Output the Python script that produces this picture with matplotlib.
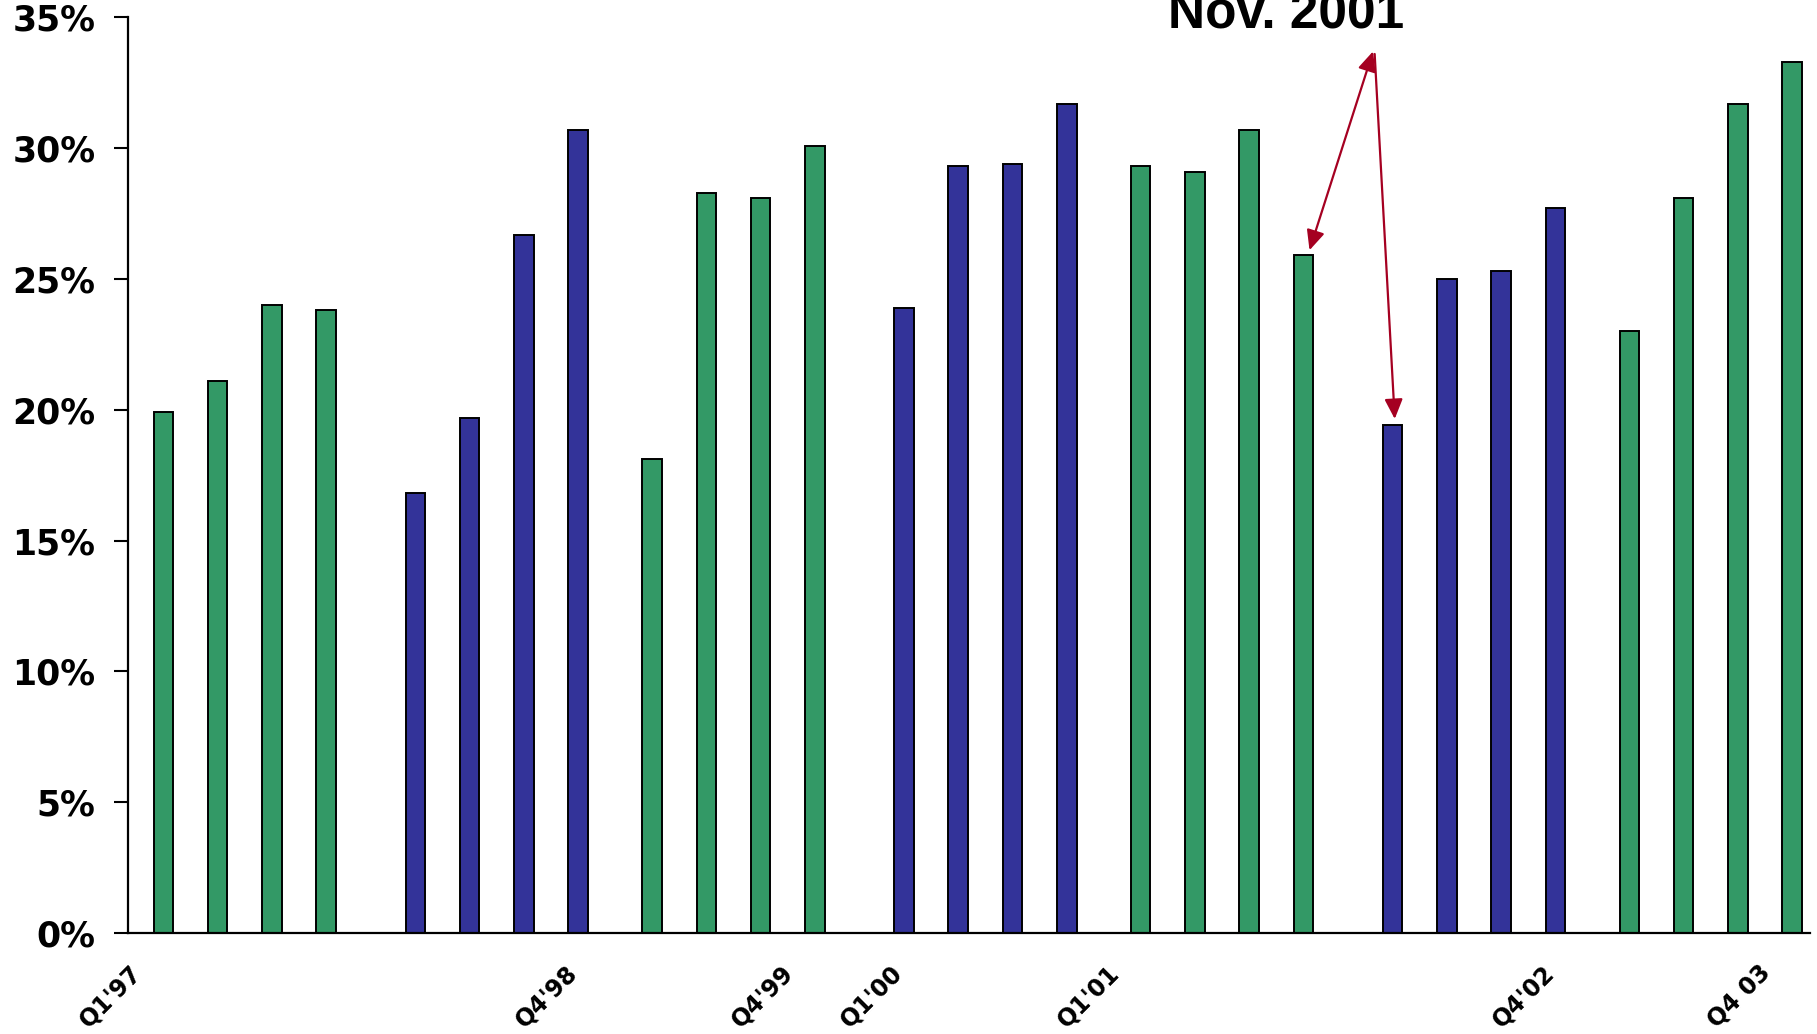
import numpy as np
import matplotlib
matplotlib.use("Agg")
import matplotlib.pyplot as plt

# quarterly share, 1997 - 2003 (percent)
years = [1997, 1998, 1999, 2000, 2001, 2002, 2003]
share = [
    [19.9, 21.1, 24.0, 23.8],
    [16.8, 19.7, 26.7, 30.7],
    [18.1, 28.3, 28.1, 30.1],
    [23.9, 29.3, 29.4, 31.7],
    [29.3, 29.1, 30.7, 25.9],
    [19.4, 25.0, 25.3, 27.7],
    [23.0, 28.1, 31.7, 33.3],
]
tick_labels = {(1997, 0): "Q1'97", (1998, 3): "Q4'98", (1999, 3): "Q4'99",
               (2000, 0): "Q1'00", (2001, 0): "Q1'01", (2002, 3): "Q4'02",
               (2003, 3): "Q4 03"}
yticks = [0, 5, 10, 15, 20, 25, 30, 35]

green = "#339966"
blue = "#333399"
arrow_red = "#a50021"

fig = plt.figure(figsize=(18.17, 10.34), dpi=100)
ax = fig.add_axes([0.0702, 0.0977, 0.926, 0.8855])

# odd years (green) and even years (blue) sit as two offset series
group_step = 4.5
blue_shift = 0.14
label_shift = {green: -0.47, blue: -0.09}

xs, vals, cols, tpos, tlab = [], [], [], [], []
for i, yr in enumerate(years):
    c = green if i % 2 == 0 else blue
    for q in range(4):
        x = i * group_step + q + (blue_shift if c == blue else 0)
        xs.append(x)
        vals.append(share[i][q])
        cols.append(c)
        if (yr, q) in tick_labels:
            tpos.append(x + label_shift[c])
            tlab.append(tick_labels[(yr, q)])

ax.bar(xs, vals, width=0.36, color=cols, edgecolor="black", linewidth=1.4, zorder=2)

ax.set_xlim(-0.66, xs[-1] + 0.33)
ax.set_ylim(0, 35)
ax.set_yticks(yticks)
ax.set_yticklabels([f"{t}%" for t in yticks], fontsize=25, fontweight="bold")
ax.tick_params(axis="y", length=10, width=1.5, pad=13)
ax.set_xticks(tpos)
ax.set_xticklabels(tlab, rotation=45, ha="right", va="center", rotation_mode="anchor",
                   fontsize=17, fontweight="bold")
ax.tick_params(axis="x", length=0, pad=26)

for s in ["top", "right"]:
    ax.spines[s].set_visible(False)
for s in ["left", "bottom"]:
    ax.spines[s].set_linewidth(1.6)

# Nov. 2001 callout pointing at the last 2001 bar and the first 2002 bar
apex = (xs[20] - 0.36, 33.7)
head = "head_length=1.2,head_width=0.55"
ax.annotate("", xy=(xs[19] + 0.11, vals[19] + 0.2), xytext=apex,
            arrowprops=dict(arrowstyle="<|-|>," + head,
                            color=arrow_red, lw=1.6, shrinkA=0, shrinkB=0))
ax.annotate("", xy=(xs[20] + 0.04, vals[20] + 0.25), xytext=(apex[0] + 0.03, apex[1] - 0.1),
            arrowprops=dict(arrowstyle="-|>," + head,
                            color=arrow_red, lw=1.6, shrinkA=0, shrinkB=0))
fig.text(0.708, 0.972, "Nov. 2001", ha="center", va="baseline",
         fontsize=37, fontweight="bold", family="Liberation Sans")

fig.savefig("out.png", dpi=100)
